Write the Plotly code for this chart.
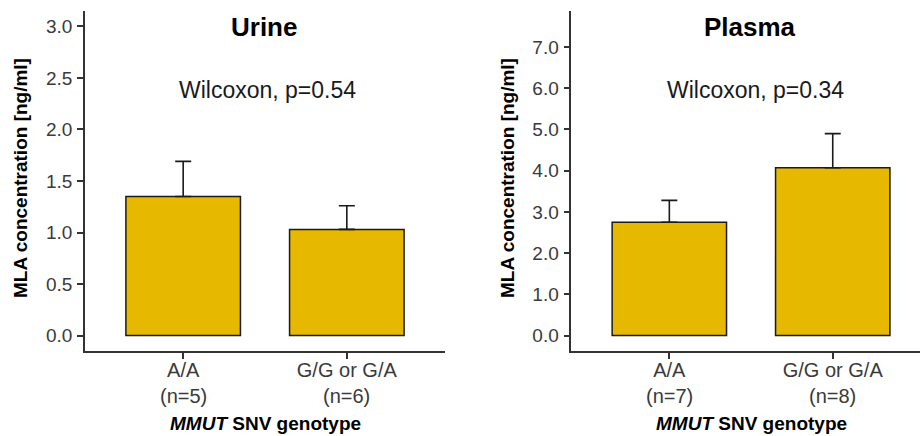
import plotly.graph_objects as go

# ---- data ----
genotypes = ["A/A", "G/G or G/A"]
urine_n = ["(n=5)", "(n=6)"]
plasma_n = ["(n=7)", "(n=8)"]
urine_mean = [1.35, 1.03]
urine_err = [0.34, 0.23]
plasma_mean = [2.75, 4.07]
plasma_err = [0.53, 0.83]
urine_ticks = [0.0, 0.5, 1.0, 1.5, 2.0, 2.5, 3.0]
plasma_ticks = [0.0, 1.0, 2.0, 3.0, 4.0, 5.0, 6.0, 7.0]
panel_titles = ["Urine", "Plasma"]
test_labels = ["Wilcoxon, p=0.54", "Wilcoxon, p=0.34"]
y_title = "MLA concentration [ng/ml]"
x_title = "<i>MMUT</i> SNV genotype"

W, H = 920, 436
FILL = "#E7B800"
LINE = "#1a1a1a"
AX = "#333333"
TICKC = "#3a3a3a"
FONT = "Liberation Sans, Arial, sans-serif"
xpos = [1, 2]

fig = go.Figure()

def add_panel(means, errs, xa, ya):
    fig.add_trace(go.Bar(
        x=xpos, y=means, width=0.7, xaxis=xa, yaxis=ya,
        marker=dict(color=FILL, line=dict(color=LINE, width=1.5)),
        error_y=dict(type="data", symmetric=False, array=errs,
                     arrayminus=[0] * len(errs), color=LINE,
                     thickness=1.6, width=8),
        showlegend=False, hoverinfo="skip"))

add_panel(urine_mean, urine_err, "x", "y")
add_panel(plasma_mean, plasma_err, "x2", "y2")

ydom = [(H - 351) / H, (H - 11) / H]
common_x = dict(tickmode="array", tickvals=xpos, ticktext=genotypes,
                showline=True, linecolor=AX, linewidth=1.5,
                ticks="outside", ticklen=6, tickcolor=AX, tickwidth=1.5,
                tickfont=dict(family=FONT, size=20, color=TICKC),
                ticklabelstandoff=-6,
                showgrid=False, zeroline=False, fixedrange=True)
common_y = dict(showline=True, linecolor=AX, linewidth=1.5,
                ticks="outside", ticklen=6, tickcolor=AX, tickwidth=1.5,
                tickfont=dict(family=FONT, size=19, color=TICKC),
                tickformat=".1f", tickmode="array",
                showgrid=False, zeroline=False, domain=ydom,
                ticklabelstandoff=1)

fig.update_layout(
    width=W, height=H,
    margin=dict(l=0, r=0, t=0, b=0),
    paper_bgcolor="white", plot_bgcolor="white",
    xaxis=dict(domain=[85 / W, 445 / W], range=[0.4, 2.6], anchor="y", **common_x),
    xaxis2=dict(domain=[571.3 / W, 1.0], range=[0.4, 2.534], anchor="y2", **common_x),
    yaxis=dict(range=[-0.15, 3.15], tickvals=urine_ticks, anchor="x", **common_y),
    yaxis2=dict(range=[-0.375, 7.875], tickvals=plasma_ticks, anchor="x2", **common_y),
)

def py(ypix):
    return (H - ypix) / H

def ann(text, x, y, size, bold=False, color="black", xref="paper", textangle=0):
    fig.add_annotation(text=f"<b>{text}</b>" if bold else text,
                       x=x, y=y, xref=xref, yref="paper",
                       xanchor="center", yanchor="middle", showarrow=False,
                       textangle=textangle,
                       font=dict(family=FONT, size=size, color=color))

# panel titles and test labels
ann(panel_titles[0], 264 / W, py(27), 26, bold=True)
ann(panel_titles[1], 750 / W, py(27), 26, bold=True)
ann(test_labels[0], 267 / W, py(90), 23, color="#1a1a1a")
ann(test_labels[1], 755 / W, py(90), 23, color="#1a1a1a")

# y axis titles
ann(y_title, 20 / W, py(178), 19, bold=True, textangle=-90)
ann(y_title, 507 / W, py(178), 19, bold=True, textangle=-90)

# n labels under tick labels
for i, x in enumerate(xpos):
    ann(urine_n[i], x, py(396), 20, color=TICKC, xref="x")
    ann(plasma_n[i], x, py(396), 20, color=TICKC, xref="x2")

# x axis titles
ann(x_title, 265 / W, py(423), 19, bold=True)
ann(x_title, 751 / W, py(423), 19, bold=True)

fig.write_html(
    "out.html",
    config={"displayModeBar": False},
    post_script="document.body.style.margin='0';document.body.style.padding='0';"
                "document.body.style.overflow='hidden';",
)
